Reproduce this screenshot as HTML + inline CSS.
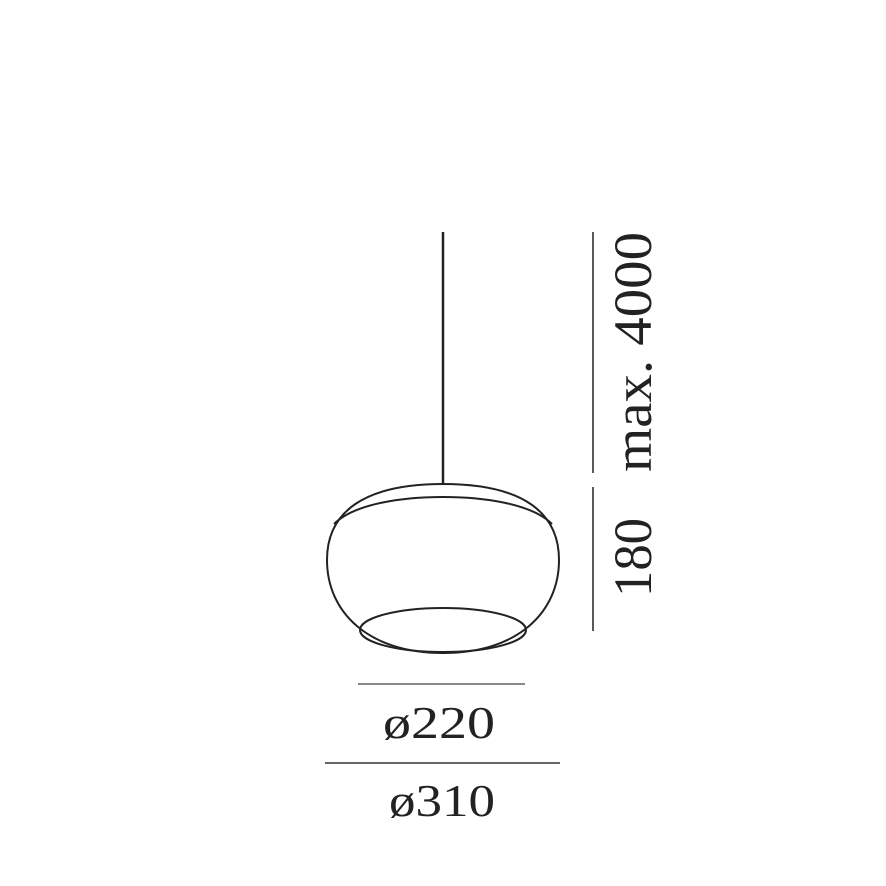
<!DOCTYPE html>
<html><head><style>html,body{margin:0;padding:0;background:#fff}svg{display:block}</style></head>
<body>
<svg width="886" height="886" viewBox="0 0 886 886" xmlns="http://www.w3.org/2000/svg">
<g fill="none" stroke="#222" stroke-width="2">
<line x1="443" y1="232" x2="443" y2="484" stroke-width="2.5"/>
<path d="M443 484 C522 484 559 512 559 560 C559 612 518 653 443 653 C368 653 327 612 327 560 C327 512 364 484 443 484 Z"/>
<path d="M334 524 C355 503 405 497 443 497 C481 497 531 503 552 524"/>
<ellipse cx="443" cy="630" rx="83" ry="22"/>
<line x1="593" y1="232" x2="593" y2="473" stroke-width="1.5"/>
<line x1="593" y1="487" x2="593" y2="631" stroke-width="1.5"/>
<line x1="358" y1="684" x2="525" y2="684" stroke="#888" stroke-width="2"/>
<line x1="325" y1="763" x2="560" y2="763" stroke="#333" stroke-width="1.5"/>
</g>
<g font-family="Liberation Serif, serif" fill="#222">
<text transform="translate(651,472) rotate(-90)" font-size="54" textLength="240" lengthAdjust="spacingAndGlyphs">max. 4000</text>
<text transform="translate(651,597) rotate(-90)" font-size="54" textLength="79" lengthAdjust="spacingAndGlyphs">180</text>
<text x="383" y="738" font-size="46" textLength="112" lengthAdjust="spacingAndGlyphs">ø220</text>
<text x="389" y="816" font-size="46" textLength="106" lengthAdjust="spacingAndGlyphs">ø310</text>
</g>
</svg>
</body></html>
